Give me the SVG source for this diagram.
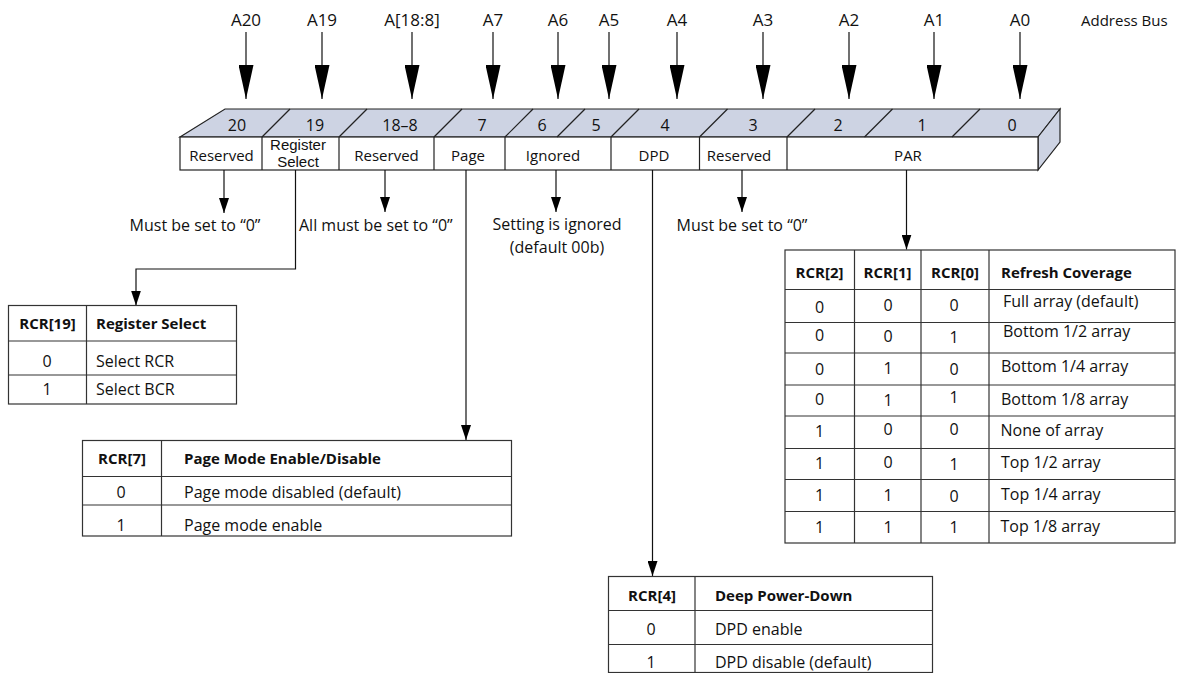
<svg xmlns="http://www.w3.org/2000/svg" width="1178" height="673" viewBox="0 0 1178 673">
<style>
text{font-family:"Open Sans","Liberation Sans",sans-serif;fill:#111;}
.t17{font-size:17px;}
.t16{font-size:16px;}
.t15{font-size:15px;}
.b{font-size:15px;font-weight:bold;}
.m{text-anchor:middle;}
.ln{stroke:#111;stroke-width:1.2;fill:none;}
.tb{stroke:#333;stroke-width:1.2;fill:#fff;}
.tl{stroke:#333;stroke-width:1.2;}
.band{fill:#cdd3e3;stroke:#222;stroke-width:1.2;}
.tight{font-family:"Liberation Sans",Arial,sans-serif;font-size:15px;}
</style>
<defs>
<marker id="big" markerUnits="userSpaceOnUse" viewBox="0 -7.5 34 15" refX="34" refY="0" markerWidth="34" markerHeight="15" orient="auto"><path d="M0,-7.5 L34,0 L0,7.5 z" fill="#000"/></marker>
<marker id="sm" markerUnits="userSpaceOnUse" viewBox="0 -5 15 10" refX="15" refY="0" markerWidth="15" markerHeight="10" orient="auto"><path d="M0,-5 L15,0 L0,5 z" fill="#000"/></marker>
</defs>
<rect width="1178" height="673" fill="#fff"/>

<g id="bus-labels" class="t17">
<text class="m" x="246" y="26">A20</text>
<text class="m" x="322" y="26">A19</text>
<text class="m" x="412" y="26">A[18:8]</text>
<text class="m" x="493" y="26">A7</text>
<text class="m" x="558" y="26">A6</text>
<text class="m" x="609" y="26">A5</text>
<text class="m" x="677" y="26">A4</text>
<text class="m" x="763" y="26">A3</text>
<text class="m" x="849" y="26">A2</text>
<text class="m" x="934" y="26">A1</text>
<text class="m" x="1020" y="26">A0</text>
<text x="1081" y="26" style="font-size:15px">Address Bus</text>
</g>

<g id="register">
<polygon class="band" points="180,137 225,109 1060,109 1038,137"/>
<polygon class="band" points="1038,137 1060,109 1060,142 1038,170"/>
<rect x="180" y="137" width="858" height="33" fill="#fff" stroke="#222" stroke-width="1.2"/>
<g stroke="#222" stroke-width="1.2">
<line x1="262" y1="137" x2="290" y2="109"/>
<line x1="339" y1="137" x2="367" y2="109"/>
<line x1="434" y1="137" x2="462" y2="109"/>
<line x1="505" y1="137" x2="533" y2="109"/>
<line x1="557" y1="137" x2="585" y2="109"/>
<line x1="611" y1="137" x2="639" y2="109"/>
<line x1="699.5" y1="137" x2="727.5" y2="109"/>
<line x1="787" y1="137" x2="815" y2="109"/>
<line x1="864.5" y1="137" x2="892.5" y2="109"/>
<line x1="952" y1="137" x2="980" y2="109"/>
<line x1="262" y1="137" x2="262" y2="170"/>
<line x1="339" y1="137" x2="339" y2="170"/>
<line x1="434" y1="137" x2="434" y2="170"/>
<line x1="505" y1="137" x2="505" y2="170"/>
<line x1="611" y1="137" x2="611" y2="170"/>
<line x1="699.5" y1="137" x2="699.5" y2="170"/>
<line x1="787" y1="137" x2="787" y2="170"/>
</g>
<g class="t16 m">
<text x="237" y="131">20</text>
<text x="315" y="131">19</text>
<text x="400" y="131">18–8</text>
<text x="482" y="131">7</text>
<text x="542" y="131">6</text>
<text x="596" y="131">5</text>
<text x="665" y="131">4</text>
<text x="753" y="131">3</text>
<text x="838" y="131">2</text>
<text x="922" y="131">1</text>
<text x="1012" y="131">0</text>
</g>
<g class="t15 m">
<text x="221.5" y="161">Reserved</text>
<text class="tight" x="298" y="149.5">Register</text>
<text class="tight" x="298" y="166.8">Select</text>
<text x="386.5" y="161">Reserved</text>
<text x="468" y="161">Page</text>
<text x="553" y="161">Ignored</text>
<text x="654" y="161">DPD</text>
<text x="739" y="161">Reserved</text>
<text x="908" y="161">PAR</text>
</g>
</g>

<g id="connectors">
<g class="ln" marker-end="url(#big)">
<line x1="246" y1="32" x2="246" y2="99"/>
<line x1="322" y1="32" x2="322" y2="99"/>
<line x1="412" y1="32" x2="412" y2="99"/>
<line x1="493" y1="32" x2="493" y2="99"/>
<line x1="558" y1="32" x2="558" y2="99"/>
<line x1="609" y1="32" x2="609" y2="99"/>
<line x1="677" y1="32" x2="677" y2="99"/>
<line x1="763" y1="32" x2="763" y2="99"/>
<line x1="849" y1="32" x2="849" y2="99"/>
<line x1="934" y1="32" x2="934" y2="99"/>
<line x1="1020" y1="32" x2="1020" y2="99"/>
</g>
<g class="ln" marker-end="url(#sm)">
<line x1="224" y1="170" x2="224" y2="213"/>
<polyline points="295.5,170 295.5,269 136,269 136,305.5"/>
<line x1="385" y1="170" x2="385" y2="212"/>
<line x1="466" y1="170" x2="466" y2="440"/>
<line x1="556" y1="170" x2="556" y2="212"/>
<line x1="652.5" y1="170" x2="652.5" y2="576"/>
<line x1="742" y1="170" x2="742" y2="212"/>
<line x1="906.5" y1="170" x2="906.5" y2="249.5"/>
</g>
</g>

<g id="note-bit20" class="t16"><text class="m" x="195" y="231">Must be set to “0”</text></g>
<g id="note-bit18-8" class="t16"><text x="299" y="231">All must be set to “0”</text></g>
<g id="note-bit6-5" class="t16 m"><text x="557" y="230">Setting is ignored</text><text x="557" y="252.5">(default 00b)</text></g>
<g id="note-bit3" class="t16"><text class="m" x="742" y="231">Must be set to “0”</text></g>

<g id="table-rcr19">
<rect class="tb" x="8.5" y="305.5" width="228" height="98.5"/>
<line class="tl" x1="86.5" y1="305.5" x2="86.5" y2="404"/>
<line class="tl" x1="8.5" y1="341" x2="236.5" y2="341"/>
<line class="tl" x1="8.5" y1="375" x2="236.5" y2="375"/>
<text class="b m" x="47.5" y="329">RCR[19]</text>
<text class="b" x="96" y="329">Register Select</text>
<text class="t16 m" x="47" y="367">0</text>
<text class="t16" x="96" y="367">Select RCR</text>
<text class="t16 m" x="47" y="395">1</text>
<text class="t16" x="96" y="395">Select BCR</text>
</g>

<g id="table-rcr7">
<rect class="tb" x="82.5" y="440.5" width="429" height="95.5"/>
<line class="tl" x1="161.5" y1="440.5" x2="161.5" y2="536"/>
<line class="tl" x1="82.5" y1="476.5" x2="511.5" y2="476.5"/>
<line class="tl" x1="82.5" y1="505" x2="511.5" y2="505"/>
<text class="b m" x="122" y="464">RCR[7]</text>
<text class="b" x="184" y="464">Page Mode Enable/Disable</text>
<text class="t16 m" x="121" y="498">0</text>
<text class="t16" x="184" y="498">Page mode disabled (default)</text>
<text class="t16 m" x="121" y="531">1</text>
<text class="t16" x="184" y="531">Page mode enable</text>
</g>

<g id="table-rcr4">
<rect class="tb" x="608.5" y="576.5" width="324" height="96"/>
<line class="tl" x1="695" y1="576.5" x2="695" y2="673"/>
<line class="tl" x1="608.5" y1="610.5" x2="932.5" y2="610.5"/>
<line class="tl" x1="608.5" y1="644.5" x2="932.5" y2="644.5"/>
<text class="b m" x="652" y="601">RCR[4]</text>
<text class="b" x="715" y="601">Deep Power-Down</text>
<text class="t16 m" x="651" y="635">0</text>
<text class="t16" x="715" y="635">DPD enable</text>
<text class="t16 m" x="651" y="668">1</text>
<text class="t16" x="715" y="668">DPD disable (default)</text>
</g>

<g id="table-par">
<rect class="tb" x="785" y="250" width="390" height="293"/>
<g class="tl">
<line x1="854.5" y1="250" x2="854.5" y2="543"/>
<line x1="921" y1="250" x2="921" y2="543"/>
<line x1="989" y1="250" x2="989" y2="543"/>
<line x1="785" y1="289.5" x2="1175" y2="289.5"/>
<line x1="785" y1="322.5" x2="1175" y2="322.5"/>
<line x1="785" y1="353" x2="1175" y2="353"/>
<line x1="785" y1="385" x2="1175" y2="385"/>
<line x1="785" y1="416" x2="1175" y2="416"/>
<line x1="785" y1="448.5" x2="1175" y2="448.5"/>
<line x1="785" y1="479.5" x2="1175" y2="479.5"/>
<line x1="785" y1="511.5" x2="1175" y2="511.5"/>
</g>
<text class="b m" x="819.5" y="278">RCR[2]</text>
<text class="b m" x="887.5" y="278">RCR[1]</text>
<text class="b m" x="955" y="278">RCR[0]</text>
<text class="b" x="1001" y="278">Refresh Coverage</text>
<g class="t16 m">
<text x="819.5" y="313">0</text><text x="888" y="311">0</text><text x="954" y="311">0</text>
<text x="819.5" y="341">0</text><text x="888" y="342">0</text><text x="954" y="343">1</text>
<text x="819.5" y="375">0</text><text x="888" y="374">1</text><text x="954" y="375">0</text>
<text x="819.5" y="405">0</text><text x="888" y="405.5">1</text><text x="954" y="403">1</text>
<text x="819.5" y="436.5">1</text><text x="888" y="435">0</text><text x="954" y="435">0</text>
<text x="819.5" y="469">1</text><text x="888" y="468">0</text><text x="954" y="470">1</text>
<text x="819.5" y="501">1</text><text x="888" y="500.5">1</text><text x="954" y="501.5">0</text>
<text x="819.5" y="533">1</text><text x="888" y="533">1</text><text x="954" y="533">1</text>
</g>
<g class="t16">
<text x="1003" y="307">Full array (default)</text>
<text x="1003" y="337">Bottom 1/2 array</text>
<text x="1001" y="372">Bottom 1/4 array</text>
<text x="1001" y="404.5">Bottom 1/8 array</text>
<text x="1000.5" y="436">None of array</text>
<text x="1001" y="468">Top 1/2 array</text>
<text x="1001" y="500">Top 1/4 array</text>
<text x="1000.5" y="532">Top 1/8 array</text>
</g>
</g>
</svg>
